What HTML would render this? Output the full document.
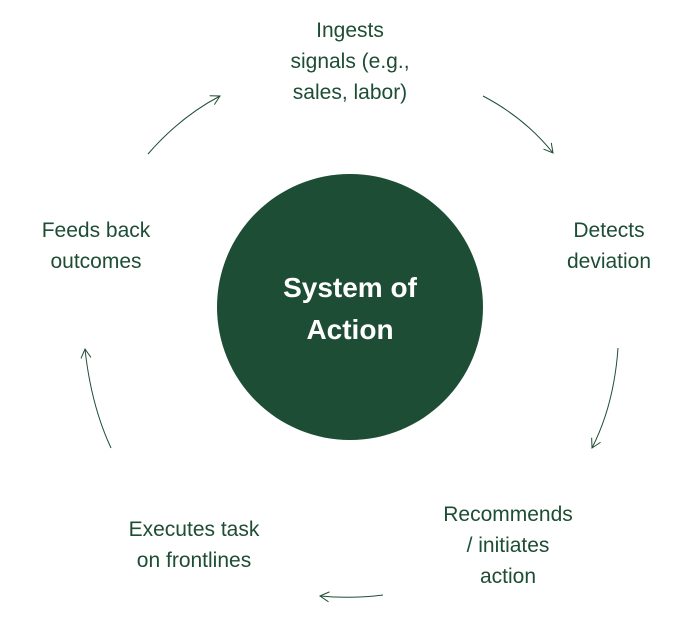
<!DOCTYPE html>
<html><head><meta charset="utf-8"><style>
html,body{margin:0;padding:0;background:#fff;}
body{width:687px;height:619px;overflow:hidden;position:relative;}
svg text{font-family:"Liberation Sans",sans-serif;fill:#1e4d35;font-size:21px;text-anchor:middle;}
</style></head><body>
<svg width="687" height="619" viewBox="0 0 687 619" xmlns="http://www.w3.org/2000/svg">
<defs><marker id="a" markerWidth="12" markerHeight="12" refX="10" refY="6" orient="auto" markerUnits="userSpaceOnUse">
<path d="M1,1 L10,6 L1,11" fill="none" stroke="#1e4d35" stroke-width="1"/></marker></defs>
<circle cx="350" cy="307" r="133" fill="#1e4d35"/>
<text x="350" y="297" style="fill:#fff;font-weight:bold;font-size:28px">System of</text>
<text x="350" y="339" style="fill:#fff;font-weight:bold;font-size:28px">Action</text>
<text x="350" y="37">Ingests</text>
<text x="350" y="68">signals (e.g.,</text>
<text x="350" y="99">sales, labor)</text>
<text x="609" y="237">Detects</text>
<text x="609" y="268">deviation</text>
<text x="96" y="237">Feeds back</text>
<text x="96" y="268">outcomes</text>
<text x="508" y="521">Recommends</text>
<text x="508" y="552">/ initiates</text>
<text x="508" y="583">action</text>
<text x="194" y="536">Executes task</text>
<text x="194" y="567">on frontlines</text>
<g fill="none" stroke="#1e4d35" stroke-width="1">
<path d="M148,154 Q180,117 220,96" marker-end="url(#a)"/>
<path d="M483,96 Q525,118 553,153" marker-end="url(#a)"/>
<path d="M618,348 Q614,405 592,448" marker-end="url(#a)"/>
<path d="M383,595 Q352,599 320,596" marker-end="url(#a)"/>
<path d="M111,448 Q91,405 85,349" marker-end="url(#a)"/>
</g>
</svg>
</body></html>
